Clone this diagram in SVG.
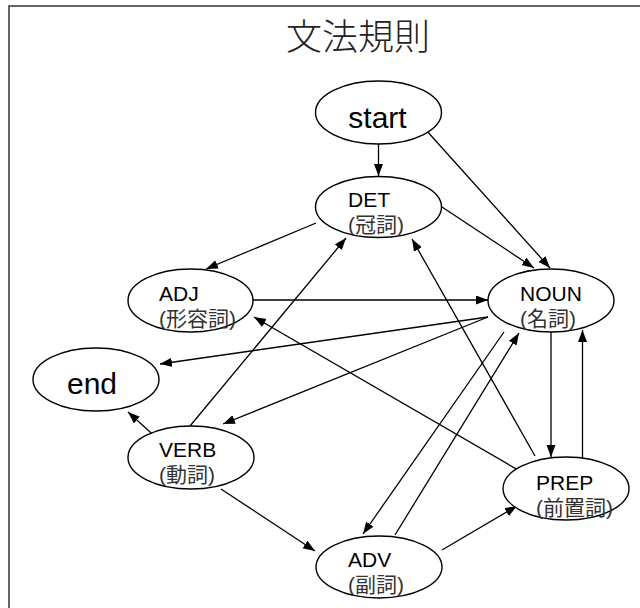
<svg xmlns="http://www.w3.org/2000/svg" width="640" height="608" viewBox="0 0 640 608">
<style>
.node ellipse{fill:#fff;stroke:#000;stroke-width:1.4}
.lbl{font-family:"Liberation Sans","Noto Sans CJK JP",sans-serif;font-size:21px;fill:#000}
.cjk{fill:#333}
.big{font-family:"Liberation Sans",sans-serif;font-size:30px;fill:#000;text-anchor:middle}
.edges line{stroke:#000;stroke-width:1.3;marker-end:url(#ah)}
</style>
<defs>
<marker id="ah" markerUnits="userSpaceOnUse" markerWidth="13" markerHeight="10" refX="12" refY="4.5" orient="auto">
<path d="M0,0 L12,4.5 L0,9 z" fill="#000"/>
</marker>
</defs>
<rect width="640" height="608" fill="#fff"/>
<path d="M9,608 V6 H640" fill="none" stroke="#333" stroke-width="1.5"/>
<text x="358" y="50" font-family="Noto Sans CJK JP, sans-serif" font-size="36" font-weight="300" fill="#222" text-anchor="middle">文法規則</text>
<g class="edges">
<line x1="378.5" y1="144" x2="378.5" y2="176"/>
<line x1="426" y1="130" x2="550" y2="268"/>
<line x1="442" y1="207" x2="534" y2="268"/>
<line x1="316" y1="223" x2="206" y2="269"/>
<line x1="253" y1="300" x2="488" y2="300"/>
<line x1="488" y1="317" x2="160" y2="364"/>
<line x1="488" y1="317" x2="223" y2="424"/>
<line x1="160" y1="441" x2="128" y2="412"/>
<line x1="190" y1="426" x2="346" y2="238"/>
<line x1="221" y1="489" x2="315" y2="551"/>
<line x1="504" y1="332" x2="363" y2="534"/>
<line x1="395" y1="535" x2="519" y2="333"/>
<line x1="442" y1="550" x2="517" y2="506"/>
<line x1="551" y1="332" x2="551" y2="457"/>
<line x1="582.5" y1="458" x2="582.5" y2="330"/>
<line x1="535" y1="456" x2="412" y2="239"/>
<line x1="518" y1="470" x2="254" y2="317"/>
</g>
<g id="start" class="node"><ellipse cx="378.5" cy="112.5" rx="63" ry="31.5"/><text class="big" x="377.5" y="128" font-size="29">start</text></g>
<g id="end" class="node"><ellipse cx="96" cy="379.5" rx="63" ry="31.5"/><text class="big" x="92" y="394">end</text></g>
<g id="det" class="node"><ellipse cx="378.5" cy="207" rx="63" ry="30.5"/><text class="lbl" x="348" y="207">DET</text><text class="lbl cjk" x="348" y="232">(冠詞)</text></g>
<g id="adj" class="node"><ellipse cx="190.5" cy="300.5" rx="62.5" ry="31.5"/><text class="lbl" x="159" y="301">ADJ</text><text class="lbl cjk" x="159" y="326">(形容詞)</text></g>
<g id="noun" class="node"><ellipse cx="551" cy="300.5" rx="63" ry="31.5"/><text class="lbl" x="520" y="301">NOUN</text><text class="lbl cjk" x="520" y="326">(名詞)</text></g>
<g id="verb" class="node"><ellipse cx="191" cy="457.5" rx="63" ry="31.5"/><text class="lbl" x="159" y="457">VERB</text><text class="lbl cjk" x="159" y="482">(動詞)</text></g>
<g id="prep" class="node"><ellipse cx="566" cy="488.5" rx="63" ry="31.5"/><text class="lbl" x="536" y="490">PREP</text><text class="lbl cjk" x="536" y="515">(前置詞)</text></g>
<g id="adv" class="node"><ellipse cx="379" cy="567" rx="63" ry="31"/><text class="lbl" x="348" y="567">ADV</text><text class="lbl cjk" x="348" y="592">(副詞)</text></g>
</svg>
